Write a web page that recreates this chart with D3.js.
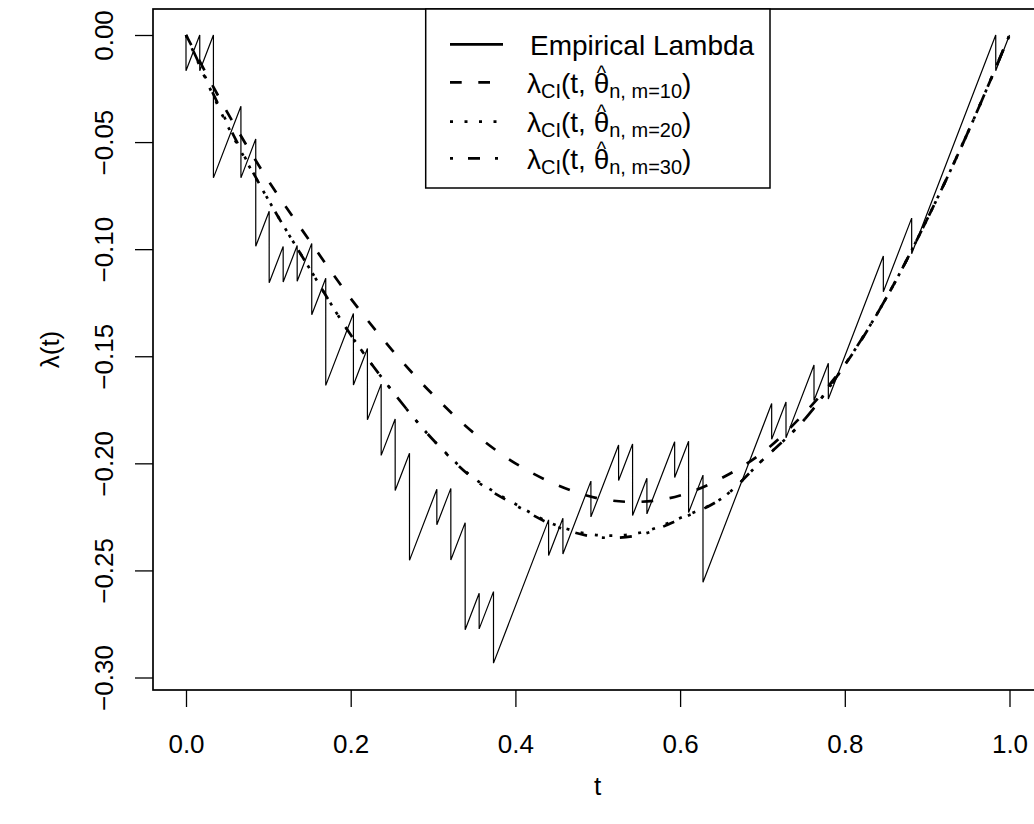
<!DOCTYPE html>
<html>
<head>
<meta charset="utf-8">
<script src="https://cdn.jsdelivr.net/npm/d3@7"></script>
<style>
  body { margin: 0; background: #fff; }
  svg { font-family: "Liberation Sans", Arial, Helvetica, sans-serif; }
</style>
</head>
<body>
<div id="chart"></div>
<script>
// Empirical lambda: jump times with the value just before / just after each jump
var jumpT     = [0.0000, 0.0167, 0.0333, 0.0667, 0.0847, 0.1010, 0.1180, 0.1350, 0.1527, 0.1697,
                 0.2033, 0.2203, 0.2370, 0.2540, 0.2714, 0.3046, 0.3216, 0.3390, 0.3560, 0.3734,
                 0.4403, 0.4577, 0.4917, 0.5253, 0.5423, 0.5597, 0.5934, 0.6103, 0.6278, 0.7112,
                 0.7286, 0.7626, 0.7800, 0.8468, 0.8812, 0.9833];
var lamBefore = [0.0000, 0.0000, 0.0000, -0.0333, -0.0486, -0.0823, -0.0987, -0.0983, -0.0973, -0.1136,
                 -0.1300, -0.1464, -0.1630, -0.1793, -0.1953, -0.2121, -0.2117, -0.2277, -0.2607, -0.2599,
                 -0.2264, -0.2256, -0.2083, -0.1914, -0.1910, -0.2070, -0.1899, -0.1897, -0.2055, -0.1721,
                 -0.1714, -0.1541, -0.1533, -0.1032, -0.0855, 0.0000];
var lamAfter  = [-0.0167, -0.0167, -0.0667, -0.0667, -0.0986, -0.1157, -0.1153, -0.1150, -0.1306, -0.1636,
                 -0.1634, -0.1797, -0.1963, -0.2127, -0.2453, -0.2287, -0.2451, -0.2777, -0.2773, -0.2933,
                 -0.2430, -0.2423, -0.2250, -0.2080, -0.2244, -0.2236, -0.2066, -0.2230, -0.2555, -0.1888,
                 -0.1881, -0.1707, -0.1700, -0.1199, -0.1021, -0.0167];
var empEnd = [1.0, 0.0];

// fitted curves lambda_CI(t, theta_hat) for m = 10, 20, 30
var tGrid = [0, 0.05, 0.10, 0.15, 0.20, 0.25, 0.30, 0.35, 0.40, 0.45, 0.50,
             0.55, 0.60, 0.65, 0.70, 0.75, 0.80, 0.85, 0.90, 0.95, 1.0];
var m10 = [0, -0.036, -0.068, -0.096, -0.123, -0.147, -0.168, -0.186, -0.200, -0.210, -0.2163,
           -0.2180, -0.2150, -0.2070, -0.1950, -0.1770, -0.1540, -0.1230, -0.0860, -0.0450, 0];
var m20 = [0, -0.042, -0.077, -0.109, -0.140, -0.166, -0.189, -0.207, -0.219, -0.229, -0.2335,
           -0.2325, -0.2255, -0.2165, -0.1985, -0.1800, -0.1540, -0.1230, -0.0860, -0.0450, 0];
var m30 = [0, -0.041, -0.077, -0.109, -0.140, -0.166, -0.189, -0.2075, -0.2195, -0.2295, -0.2345,
           -0.2335, -0.2260, -0.2165, -0.1985, -0.1800, -0.1540, -0.1230, -0.0860, -0.0450, 0];

var xTicks = [0, 0.2, 0.4, 0.6, 0.8, 1.0];
var yTicks = [0, -0.05, -0.10, -0.15, -0.20, -0.25, -0.30];

// Width and height
var w = 1034;
var h = 824;
var box = {left: 153, right: 1042.4, top: 9, bottom: 690};

var xScale = d3.scaleLinear().domain([0, 1]).range([186, 1009.5]);
var yScale = d3.scaleLinear().domain([-0.30, 0]).range([677.5, 35]);

var svg = d3.select("#chart").append("svg")
  .attr("width", w)
  .attr("height", h);

svg.append("rect").attr("width", w).attr("height", h).attr("fill", "#fff");

// X axis
var xAxis = d3.axisBottom(xScale)
  .tickValues(xTicks)
  .tickSize(17)
  .tickPadding(27)
  .tickFormat(d3.format(".1f"));

var gx = svg.append("g")
  .attr("transform", "translate(0," + box.bottom + ")")
  .call(xAxis);
gx.select(".domain").remove();
gx.selectAll("line").attr("stroke", "#000").attr("stroke-width", 1.3);
gx.selectAll("text")
  .attr("fill", "#000")
  .style("font-size", "26px")
  .attr("dy", "0.72em");

// Y axis
var yAxis = d3.axisLeft(yScale)
  .tickValues(yTicks)
  .tickSize(18)
  .tickFormat(function(d) { return d3.format(".2f")(d).replace("-", "\u2212"); });

var gy = svg.append("g")
  .attr("transform", "translate(" + box.left + ",0)")
  .call(yAxis);
gy.select(".domain").remove();
gy.selectAll("line").attr("stroke", "#000").attr("stroke-width", 1.3);
gy.selectAll("text")
  .attr("fill", "#000")
  .style("font-size", "26px")
  .attr("x", null).attr("dy", null)
  .attr("text-anchor", "middle")
  .attr("transform", "translate(-40,0) rotate(-90)");

// plot box
svg.append("rect")
  .attr("x", box.left)
  .attr("y", box.top)
  .attr("width", box.right - box.left)
  .attr("height", box.bottom - box.top)
  .attr("fill", "none")
  .attr("stroke", "#000")
  .attr("stroke-width", 1.7);

// axis titles
svg.append("text")
  .attr("x", (box.left + box.right) / 2)
  .attr("y", 795)
  .attr("text-anchor", "middle")
  .style("font-size", "26px")
  .text("t");

svg.append("text")
  .attr("transform", "translate(59," + ((box.top + box.bottom) / 2) + ") rotate(-90)")
  .attr("text-anchor", "middle")
  .style("font-size", "26px")
  .text("\u03bb(t)");

// empirical lambda path
var empPts = [];
jumpT.forEach(function(t, i) {
  empPts.push([t, lamBefore[i]]);
  empPts.push([t, lamAfter[i]]);
});
empPts.push(empEnd);

var line = d3.line()
  .x(function(d) { return xScale(d[0]); })
  .y(function(d) { return yScale(d[1]); });

svg.append("path")
  .attr("d", line(empPts))
  .attr("fill", "none")
  .attr("stroke", "#000")
  .attr("stroke-width", 1.2);

// fitted curves
var smooth = d3.line()
  .curve(d3.curveCatmullRom.alpha(0.5))
  .x(function(d) { return xScale(d[0]); })
  .y(function(d) { return yScale(d[1]); });

var styles = [
  {vals: m10, dash: "11.7 16.6"},
  {vals: m20, dash: "3 11.5"},
  {vals: m30, dash: "3 15 12 15"}
];

styles.forEach(function(s) {
  svg.append("path")
    .attr("d", smooth(tGrid.map(function(t, i) { return [t, s.vals[i]]; })))
    .attr("fill", "none")
    .attr("stroke", "#000")
    .attr("stroke-width", 2.7)
    .attr("stroke-dasharray", s.dash);
});

// Legend
var leg = {left: 425.7, right: 770, top: box.top, bottom: 188};
svg.append("rect")
  .attr("x", leg.left)
  .attr("y", leg.top)
  .attr("width", leg.right - leg.left)
  .attr("height", leg.bottom - leg.top)
  .attr("fill", "#fff")
  .attr("stroke", "#000")
  .attr("stroke-width", 1.5);

var rowY = [44.3, 82.3, 121.7, 158.3];
var legDash = [null, styles[0].dash, styles[1].dash, styles[2].dash];
var mLabels = ["10", "20", "30"];

rowY.forEach(function(y, i) {
  var l = svg.append("line")
    .attr("x1", 450).attr("x2", 503)
    .attr("y1", y).attr("y2", y)
    .attr("stroke", "#000")
    .attr("stroke-width", 2.7);
  if (legDash[i]) l.attr("stroke-dasharray", legDash[i]);
});

svg.append("text")
  .attr("x", 530)
  .attr("y", rowY[0] + 10.5)
  .style("font-size", "28px")
  .text("Empirical Lambda");

mLabels.forEach(function(m, i) {
  var base = rowY[i + 1] + 10.5;
  var t = svg.append("text")
    .attr("x", 527)
    .attr("y", base)
    .style("font-size", "28px");
  t.append("tspan").text("\u03bb");
  t.append("tspan").attr("dy", 5).style("font-size", "20px").text("CI");
  t.append("tspan").attr("dy", -5).text("(t, ");
  t.append("tspan").text("\u03b8");
  t.append("tspan").attr("dy", 5).style("font-size", "20px").text("n, m=" + m);
  t.append("tspan").attr("dy", -5).text(")");

  // hat over theta
  var idx = ("\u03bbCI(t, ").length;
  var ext = t.node().getExtentOfChar(idx);
  svg.append("text")
    .attr("x", ext.x + ext.width / 2)
    .attr("y", base - 13)
    .attr("text-anchor", "middle")
    .style("font-size", "20px")
    .text("^");
});
</script>
</body>
</html>
